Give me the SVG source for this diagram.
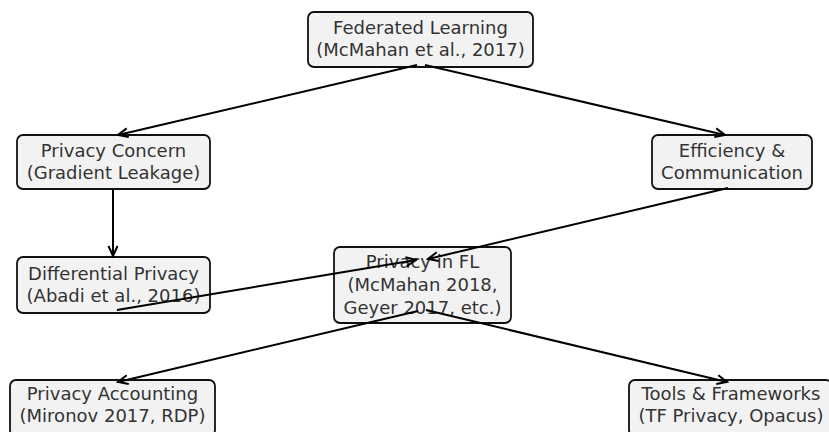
<svg xmlns="http://www.w3.org/2000/svg" width="829" height="432" viewBox="0 0 829 432">
<style>
.box{fill:#f2f2f2;stroke:#111;stroke-width:1.8}
.t{font-family:"DejaVu Sans",sans-serif;font-size:18px;fill:#333;text-anchor:middle}
.e{stroke:#000;stroke-width:2;fill:none;marker-end:url(#ah)}
</style>
<defs>
<marker id="ah" markerUnits="userSpaceOnUse" markerWidth="14" markerHeight="12" refX="0" refY="0" viewBox="-12 -6 14 12" orient="auto">
<path d="M-10,-4.5 L0,0 L-10,4.5" fill="none" stroke="#000" stroke-width="2"/>
</marker>
</defs>
<rect width="829" height="432" fill="#fff"/>
<g id="n-fl"><rect class="box" x="308" y="12" width="225" height="55" rx="6"/><text class="t" x="420.5" y="34">Federated Learning</text><text class="t" x="420.5" y="56">(McMahan et al., 2017)</text></g>
<g id="n-pc"><rect class="box" x="17" y="135" width="193" height="54" rx="6"/><text class="t" x="113.5" y="157">Privacy Concern</text><text class="t" x="113.5" y="179">(Gradient Leakage)</text></g>
<g id="n-ec"><rect class="box" x="652" y="135" width="160" height="54" rx="6"/><text class="t" x="732" y="157">Efficiency &amp;</text><text class="t" x="732" y="179">Communication</text></g>
<g id="n-dp"><rect class="box" x="17" y="257" width="193" height="56" rx="6"/><text class="t" x="113.5" y="280">Differential Privacy</text><text class="t" x="113.5" y="302">(Abadi et al., 2016)</text></g>
<g id="n-pfl"><rect class="box" x="334" y="247" width="177" height="76" rx="6"/><text class="t" x="422.5" y="268">Privacy in FL</text><text class="t" x="422.5" y="291">(McMahan 2018,</text><text class="t" x="422.5" y="314">Geyer 2017, etc.)</text></g>
<g id="n-pa"><rect class="box" x="10" y="380" width="205" height="56" rx="6"/><text class="t" x="112.5" y="400">Privacy Accounting</text><text class="t" x="112.5" y="422">(Mironov 2017, RDP)</text></g>
<g id="n-tf"><rect class="box" x="629" y="380" width="203" height="56" rx="6"/><text class="t" x="731" y="400">Tools &amp; Frameworks</text><text class="t" x="731" y="422">(TF Privacy, Opacus)</text></g>
<g id="edges">
<line class="e" x1="417" y1="65" x2="118" y2="135"/>
<line class="e" x1="425" y1="65" x2="725" y2="135"/>
<line class="e" x1="113" y1="190" x2="113" y2="256"/>
<line class="e" x1="117" y1="310" x2="416" y2="260"/>
<line class="e" x1="728" y1="188" x2="428" y2="259"/>
<line class="e" x1="418" y1="311" x2="118" y2="382"/>
<line class="e" x1="426" y1="310" x2="727" y2="382"/>
</g>
</svg>
